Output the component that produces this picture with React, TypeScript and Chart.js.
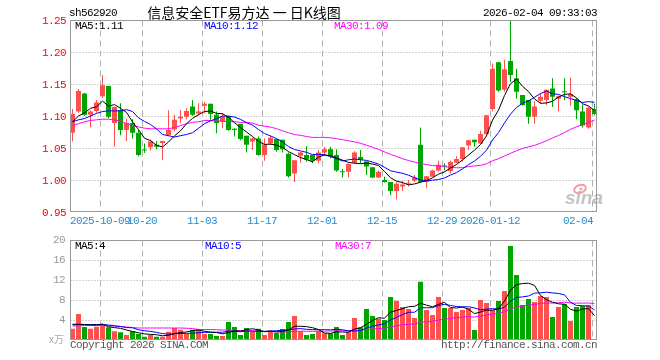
import React, { useEffect, useRef } from 'react';
import { Chart, registerables } from 'chart.js';

Chart.register(...registerables);

// ---------- data ----------
const dates = [
  '2025-09-24', '2025-09-25', '2025-09-26', '2025-09-29', '2025-09-30', '2025-10-09', '2025-10-10', '2025-10-13', '2025-10-14', '2025-10-15',
  '2025-10-16', '2025-10-17', '2025-10-20', '2025-10-21', '2025-10-22', '2025-10-23', '2025-10-24', '2025-10-27', '2025-10-28', '2025-10-29',
  '2025-10-30', '2025-10-31', '2025-11-03', '2025-11-04', '2025-11-05', '2025-11-06', '2025-11-07', '2025-11-10', '2025-11-11', '2025-11-12',
  '2025-11-13', '2025-11-14', '2025-11-17', '2025-11-18', '2025-11-19', '2025-11-20', '2025-11-21', '2025-11-24', '2025-11-25', '2025-11-26',
  '2025-11-27', '2025-11-28', '2025-12-01', '2025-12-02', '2025-12-03', '2025-12-04', '2025-12-05', '2025-12-08', '2025-12-09', '2025-12-10',
  '2025-12-11', '2025-12-12', '2025-12-15', '2025-12-16', '2025-12-17', '2025-12-18', '2025-12-19', '2025-12-22', '2025-12-23', '2025-12-24',
  '2025-12-25', '2025-12-26', '2025-12-29', '2025-12-30', '2025-12-31', '2026-01-05', '2026-01-06', '2026-01-07', '2026-01-08', '2026-01-09',
  '2026-01-12', '2026-01-13', '2026-01-14', '2026-01-15', '2026-01-16', '2026-01-19', '2026-01-20', '2026-01-21', '2026-01-22', '2026-01-23',
  '2026-01-26', '2026-01-27', '2026-01-28', '2026-01-29', '2026-01-30', '2026-02-02', '2026-02-03', '2026-02-04',
];

const opens = [
  1.074, 1.107, 1.135, 1.102, 1.108, 1.131, 1.147, 1.089, 1.109, 1.078,
  1.089, 1.074, 1.047, 1.051, 1.055, 1.058, 1.070, 1.079, 1.096, 1.099,
  1.115, 1.104, 1.116, 1.119, 1.102, 1.091, 1.100, 1.080, 1.088, 1.069,
  1.060, 1.065, 1.039, 1.057, 1.064, 1.063, 1.041, 1.010, 1.038, 1.039,
  1.039, 1.030, 1.043, 1.048, 1.039, 1.013, 1.013, 1.027, 1.036, 1.029,
  1.020, 1.004, 1.000, 0.997, 0.983, 0.990, 0.994, 0.999, 1.055, 0.997,
  1.005, 1.015, 1.022, 1.014, 1.027, 1.033, 1.054, 1.063, 1.057, 1.072,
  1.111, 1.184, 1.141, 1.186, 1.159, 1.133, 1.125, 1.099, 1.124, 1.125,
  1.143, 1.127, 1.138, 1.130, 1.126, 1.107, 1.082, 1.111,
];

const highs = [
  1.111, 1.142, 1.136, 1.109, 1.125, 1.164, 1.147, 1.115, 1.120, 1.096,
  1.095, 1.078, 1.057, 1.063, 1.061, 1.061, 1.109, 1.102, 1.109, 1.112,
  1.125, 1.120, 1.122, 1.119, 1.107, 1.104, 1.100, 1.081, 1.088, 1.069,
  1.066, 1.068, 1.065, 1.069, 1.064, 1.063, 1.043, 1.031, 1.044, 1.053,
  1.039, 1.047, 1.052, 1.052, 1.048, 1.017, 1.026, 1.045, 1.047, 1.029,
  1.020, 1.015, 1.005, 0.997, 0.997, 0.999, 1.000, 1.008, 1.082, 1.006,
  1.016, 1.030, 1.026, 1.030, 1.037, 1.051, 1.063, 1.063, 1.077, 1.102,
  1.182, 1.184, 1.188, 1.250, 1.174, 1.133, 1.125, 1.123, 1.135, 1.141,
  1.159, 1.132, 1.159, 1.160, 1.128, 1.118, 1.115, 1.119,
];

const lows = [
  1.060, 1.105, 1.100, 1.082, 1.105, 1.128, 1.096, 1.052, 1.070, 1.061,
  1.065, 1.037, 1.042, 1.046, 1.048, 1.031, 1.069, 1.076, 1.089, 1.095,
  1.100, 1.101, 1.104, 1.094, 1.073, 1.081, 1.077, 1.068, 1.062, 1.043,
  1.047, 1.038, 1.030, 1.055, 1.044, 1.043, 1.004, 0.997, 1.027, 1.029,
  1.026, 1.026, 1.037, 1.034, 1.013, 1.004, 1.004, 1.025, 1.026, 1.008,
  1.003, 1.003, 0.996, 0.976, 0.970, 0.983, 0.990, 0.997, 0.996, 0.987,
  1.005, 1.013, 1.015, 1.010, 1.026, 1.029, 1.047, 1.052, 1.057, 1.070,
  1.107, 1.138, 1.138, 1.153, 1.127, 1.116, 1.088, 1.088, 1.120, 1.117,
  1.114, 1.107, 1.125, 1.116, 1.095, 1.082, 1.080, 1.101,
];

const closes = [
  1.103, 1.139, 1.102, 1.107, 1.121, 1.148, 1.099, 1.114, 1.078, 1.089,
  1.074, 1.039, 1.046, 1.060, 1.052, 1.061, 1.078, 1.094, 1.099, 1.108,
  1.102, 1.107, 1.119, 1.103, 1.089, 1.100, 1.078, 1.078, 1.064, 1.055,
  1.065, 1.039, 1.055, 1.066, 1.047, 1.048, 1.006, 1.031, 1.043, 1.032,
  1.030, 1.043, 1.048, 1.037, 1.015, 1.012, 1.025, 1.043, 1.032, 1.021,
  1.004, 1.013, 0.997, 0.983, 0.994, 0.993, 0.995, 1.004, 0.997, 1.006,
  1.015, 1.024, 1.021, 1.028, 1.033, 1.051, 1.062, 1.059, 1.072, 1.101,
  1.174, 1.140, 1.173, 1.164, 1.138, 1.117, 1.099, 1.115, 1.130, 1.141,
  1.130, 1.131, 1.137, 1.134, 1.109, 1.085, 1.113, 1.103,
];

// volume in 万 (10k) units
const volumes = [
  2.27, 5.2, 2.6, 2.27, 2.67, 3.2, 2.53, 1.73, 1.53, 1.0,
  1.73, 1.2, 0.67, 1.0, 0.67, 0.67, 1.67, 2.4, 2.07, 1.2,
  2.07, 2.2, 1.2, 1.2, 0.8, 0.8, 3.6, 2.6, 1.0, 2.4,
  1.67, 2.27, 1.0, 1.73, 1.4, 2.2, 3.6, 4.8, 1.73, 1.0,
  1.2, 1.73, 1.33, 1.33, 2.6, 1.0, 1.6, 4.4, 2.53, 6.2,
  4.8, 4.27, 4.0, 8.6, 7.87, 6.6, 6.2, 4.4, 11.67, 6.0,
  5.0, 8.6, 6.4, 6.4, 5.6, 6.0, 6.4, 2.0, 8.0, 7.4,
  6.0, 7.8, 9.8, 18.8, 13.0, 7.0, 8.2, 7.6, 8.8, 8.6,
  4.6, 6.6, 7.2, 3.8, 6.6, 6.8, 7.0, 0.2,
];

// moving-average values before enough in-window history exists
const ma5Head = [1.091, 1.100, 1.105, 1.112];
const ma10Head = [1.091, 1.094, 1.096, 1.100, 1.104, 1.107, 1.108, 1.108, 1.108];
const ma30Head = [
  1.085, 1.088, 1.091, 1.093, 1.094, 1.095, 1.095, 1.094, 1.092, 1.088,
  1.085, 1.083, 1.081, 1.080, 1.080, 1.080, 1.080, 1.082, 1.085, 1.088,
  1.090, 1.091, 1.093, 1.093, 1.092, 1.092, 1.091, 1.091, 1.090,
];
const vma5Head = [3.15, 3.15, 3.1, 3.0];
const vma10Head = [3.05, 3.1, 3.1, 3.1, 3.1, 3.1, 3.0, 2.85, 2.7];
const vma30Head = [
  2.8, 2.85, 2.9, 2.9, 2.9, 2.9, 2.85, 2.8, 2.7, 2.6,
  2.5, 2.4, 2.4, 2.4, 2.4, 2.4, 2.4, 2.4, 2.4, 2.35,
  2.3, 2.1, 2.1, 2.1, 2.05, 2.0, 2.0, 1.95, 1.9,
];

const priceTicks = [1.25, 1.2, 1.15, 1.1, 1.05, 1.0, 0.95];
const volTicks = [20, 16, 12, 8, 4];
const dateTickDates = ['2025-10-09', '2025-10-20', '2025-11-03', '2025-11-17', '2025-12-01', '2025-12-15', '2025-12-29', '2026-01-12', '2026-02-04'];
const dateTickLabels = ['2025-10-09', '10-20', '11-03', '11-17', '12-01', '12-15', '12-29', '2026-01-12', '02-04'];

const code = 'sh562920';
const title = '信息安全ETF易方达 一 日K线图';
const stamp = '2026-02-04 09:33:03';
const priceMaLabels = ['MA5:1.11', 'MA10:1.12', 'MA30:1.09'];
const volMaLabels = ['MA5:4', 'MA10:5', 'MA30:7'];

// ---------- style ----------
const RED = '#ff5050';
const GREEN = '#00a600';
const MA_COLORS = ['#000000', '#0000ff', '#ff00ff'];
const MONO = '11px "Liberation Mono", "DejaVu Sans Mono", monospace';
const CJK = '14px "Noto Sans CJK SC", sans-serif';

function movingAverage(values: number[], n: number, head: number[]) {
  return values.map((_, i) => {
    if (i < n - 1) return head[i];
    let s = 0;
    for (let k = i - n + 1; k <= i; k++) s += values[k];
    return s / n;
  });
}

function text(ctx: CanvasRenderingContext2D, s: string, x: number, y: number, color: string, align: CanvasTextAlign = 'left', font = MONO, spacing = '-0.6px') {
  ctx.save();
  ctx.font = font;
  ctx.fillStyle = color;
  ctx.textAlign = align;
  ctx.textBaseline = 'middle';
  (ctx as any).letterSpacing = spacing;
  ctx.fillText(s, x, y);
  ctx.restore();
}

const panelPlugin = {
  id: 'panels',
  beforeDatasetsDraw(chart: any) {
    const ctx: CanvasRenderingContext2D = chart.ctx;
    const x = chart.scales.x;
    const yP = chart.scales.yP;
    const yV = chart.scales.yV;
    const left = 70.5;
    const right = 596.5;
    const pTop = Math.round(yP.getPixelForValue(1.25)) + 0.5;
    const pBot = Math.round(yP.getPixelForValue(0.95)) - 0.5;
    const vTop = Math.round(yV.getPixelForValue(20)) + 0.5;
    const vBot = Math.round(yV.getPixelForValue(0)) - 0.5;
    const slot = x.getPixelForValue(1) - x.getPixelForValue(0);

    ctx.save();
    // horizontal dotted grid
    ctx.strokeStyle = '#a8a8a8';
    ctx.lineWidth = 1;
    ctx.setLineDash([1, 2]);
    priceTicks.slice(1, -1).forEach((v) => {
      const y = Math.round(yP.getPixelForValue(v)) + 0.5;
      ctx.beginPath(); ctx.moveTo(left, y); ctx.lineTo(right, y); ctx.stroke();
    });
    volTicks.slice(1).forEach((v) => {
      const y = Math.round(yV.getPixelForValue(v)) + 0.5;
      ctx.beginPath(); ctx.moveTo(left, y); ctx.lineTo(right, y); ctx.stroke();
    });
    // vertical dashed grid
    ctx.setLineDash([6, 4]);
    ctx.strokeStyle = '#b0b0b0';
    dateTickDates.forEach((d) => {
      const i = dates.indexOf(d);
      const gx = Math.floor(x.getPixelForValue(i) - slot / 2 + 0.5) + 0.5;
      ctx.beginPath(); ctx.moveTo(gx, pTop); ctx.lineTo(gx, pBot); ctx.stroke();
      ctx.beginPath(); ctx.moveTo(gx, vTop); ctx.lineTo(gx, vBot); ctx.stroke();
    });
    ctx.setLineDash([]);
    ctx.restore();

    // sina watermark
    ctx.save();
    ctx.font = 'italic bold 19px "Liberation Sans", sans-serif';
    ctx.fillStyle = '#c4c4c4';
    ctx.textBaseline = 'alphabetic';
    ctx.fillText('sina', 565, 204);
    ctx.strokeStyle = '#f2a0a0';
    ctx.lineWidth = 2;
    ctx.beginPath(); ctx.ellipse(580, 189, 6, 4, -0.3, 0, Math.PI * 2); ctx.stroke();
    ctx.fillStyle = '#f2a0a0';
    ctx.beginPath(); ctx.arc(581, 189, 1.5, 0, Math.PI * 2); ctx.fill();
    ctx.restore();
  },
  afterDatasetsDraw(chart: any) {
    const ctx: CanvasRenderingContext2D = chart.ctx;
    const x = chart.scales.x;
    const yP = chart.scales.yP;
    const yV = chart.scales.yV;
    const left = 70.5;
    const right = 596.5;
    const pTop = Math.round(yP.getPixelForValue(1.25)) + 0.5;
    const pBot = Math.round(yP.getPixelForValue(0.95)) - 0.5;
    const vTop = Math.round(yV.getPixelForValue(20)) + 0.5;
    const vBot = Math.round(yV.getPixelForValue(0)) - 0.5;
    const slot = x.getPixelForValue(1) - x.getPixelForValue(0);

    // frames
    ctx.save();
    ctx.strokeStyle = '#999999';
    ctx.lineWidth = 1;
    ctx.strokeRect(left, pTop, right - left, pBot - pTop);
    ctx.strokeRect(left, vTop, right - left, vBot - vTop);
    ctx.restore();

    // header
    text(ctx, code, 69, 13, '#000');
    text(ctx, title, 244, 12.5, '#000', 'center', CJK, '0px');
    text(ctx, stamp, 597, 13, '#000', 'right');

    // price axis labels
    priceTicks.forEach((v) => {
      text(ctx, v.toFixed(2), 66, yP.getPixelForValue(v) + 1.5, '#ff0000', 'right');
    });
    // volume axis labels
    volTicks.forEach((v) => {
      text(ctx, String(v), 65, yV.getPixelForValue(v) + 0.5, '#999999', 'right');
    });
    text(ctx, 'x万', 64, 339, '#aaaaaa', 'right', '10px "Noto Sans CJK SC", sans-serif', '0px');

    // date labels
    dateTickDates.forEach((d, k) => {
      const i = dates.indexOf(d);
      const gx = Math.floor(x.getPixelForValue(i) - slot / 2 + 0.5);
      const last = k === dateTickDates.length - 1;
      text(ctx, dateTickLabels[k], last ? gx + 1 : gx, 221, '#2a8ad0', last ? 'right' : 'center');
    });

    // MA legends
    const maX = [75, 204, 334];
    priceMaLabels.forEach((s, k) => text(ctx, s, maX[k], 26.5, MA_COLORS[k]));
    const vmaX = [75, 205, 335];
    volMaLabels.forEach((s, k) => text(ctx, s, vmaX[k], 246.5, MA_COLORS[k]));

    // footer
    text(ctx, 'Copyright 2026 SINA.COM', 70, 345.5, '#555555');
    text(ctx, 'http://finance.sina.com.cn', 597, 345.5, '#555555', 'right');
  },
};

export default function App() {
  const ref = useRef<HTMLCanvasElement>(null);

  useEffect(() => {
    const canvas = ref.current;
    if (!canvas) return;
    const ma5 = movingAverage(closes, 5, ma5Head);
    const ma10 = movingAverage(closes, 10, ma10Head);
    const ma30 = movingAverage(closes, 30, ma30Head);
    const vma5 = movingAverage(volumes, 5, vma5Head);
    const vma10 = movingAverage(volumes, 10, vma10Head);
    const vma30 = movingAverage(volumes, 30, vma30Head);
    const colors = closes.map((c, i) => (c >= opens[i] ? RED : GREEN));

    const line = (label: string, data: number[], color: string, axis: string) => ({
      type: 'line' as const,
      label,
      data,
      yAxisID: axis,
      borderColor: color,
      backgroundColor: color,
      borderWidth: 1,
      pointRadius: 0,
      tension: 0,
      fill: false,
      order: 0,
    });

    const chart = new Chart(canvas, {
      type: 'bar',
      data: {
        labels: dates,
        datasets: [
          line('MA5', ma5, MA_COLORS[0], 'yP'),
          line('MA10', ma10, MA_COLORS[1], 'yP'),
          line('MA30', ma30, MA_COLORS[2], 'yP'),
          line('VMA5', vma5, MA_COLORS[0], 'yV'),
          line('VMA10', vma10, MA_COLORS[1], 'yV'),
          line('VMA30', vma30, MA_COLORS[2], 'yV'),
          {
            type: 'bar',
            label: 'body',
            data: opens.map((o, i) => [o, closes[i]]) as any,
            yAxisID: 'yP',
            backgroundColor: colors,
            barThickness: 5,
            grouped: false,
            minBarLength: 1,
            borderWidth: 0,
            inflateAmount: 0,
            order: 4,
          } as any,
          {
            type: 'bar',
            label: 'wick',
            data: lows.map((l, i) => [l, highs[i]]) as any,
            yAxisID: 'yP',
            backgroundColor: colors,
            barThickness: 1,
            grouped: false,
            borderWidth: 0,
            inflateAmount: 0,
            order: 5,
          } as any,
          {
            type: 'bar',
            label: 'volume',
            data: volumes,
            yAxisID: 'yV',
            backgroundColor: colors,
            barThickness: 5,
            grouped: false,
            borderWidth: 0,
            inflateAmount: 0,
            order: 4,
          } as any,
        ],
      },
      options: {
        animation: false,
        responsive: false,
        devicePixelRatio: 1,
        events: [],
        layout: { padding: { left: 69.5, right: 62.5, top: 20, bottom: 20 } },
        plugins: { legend: { display: false }, tooltip: { enabled: false } },
        scales: {
          x: { type: 'category', display: false, offset: true, grid: { display: false } },
          yP: { type: 'linear', display: false, min: 0.75, max: 1.25 },
          yV: { type: 'linear', display: false, min: 0, max: 64 },
        },
      } as any,
      plugins: [panelPlugin],
    });
    return () => chart.destroy();
  }, []);

  return (
    <div style={{ position: 'absolute', left: 0, top: 0, width: 660, height: 360, background: '#ffffff' }}>
      <canvas ref={ref} width={660} height={360} style={{ display: 'block', width: 660, height: 360 }} />
    </div>
  );
}
